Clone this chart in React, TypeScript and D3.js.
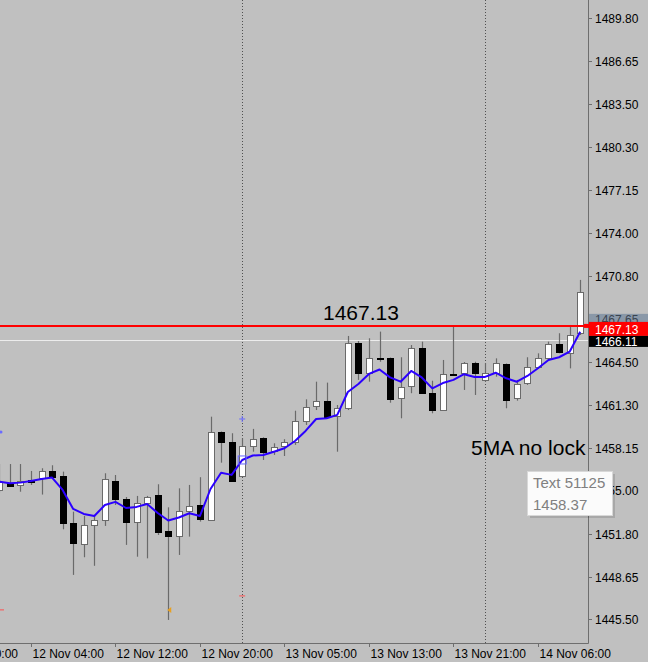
import React, { FC, useEffect, useRef } from "react"
import { line, scaleLinear, select } from "d3"

// H1 bars, index 0 = 13 Nov 01:00 (first bar is index -23)
const firstBar = -23
const opens = [
  1455.04, 1455.53, 1455.4, 1455.75, 1455.94, 1456.44, 1456.07, 1452.62, 1451.06, 1452.46,
  1452.83, 1455.72, 1454.4, 1452.66, 1454.06, 1454.67, 1452.04, 1451.67, 1453.51, 1453.93,
  1452.83, 1459.29, 1458.6, 1456.09, 1458.3, 1458.85, 1457.93, 1458.28, 1458.6, 1460.15,
  1461.23, 1461.62, 1460.49, 1461.06, 1465.85, 1463.68, 1464.77, 1464.74, 1461.8, 1462.7,
  1465.48, 1462.21, 1460.93, 1463.62, 1463.64, 1464.38, 1463.14, 1463.64, 1464.33, 1461.8,
  1462.9, 1464.13, 1464.74, 1465.8, 1465.11, 1466.59,
]
const highs = [
  1456.95, 1456.95, 1456.95, 1456.44, 1456.64, 1456.86, 1456.39, 1453.44, 1453.12, 1453.12,
  1456.27, 1456.14, 1454.52, 1454.6, 1454.6, 1455.46, 1453.76, 1455.16, 1455.41, 1455.98,
  1460.44, 1459.35, 1459.22, 1458.85, 1459.54, 1458.92, 1458.48, 1458.78, 1460.88, 1461.72,
  1463.02, 1462.95, 1461.3, 1466.39, 1466.02, 1466.22, 1466.71, 1464.8, 1464.82, 1465.72,
  1465.97, 1463.09, 1464.62, 1467.07, 1464.47, 1464.49, 1464.4, 1464.74, 1464.36, 1463.15,
  1464.82, 1465.11, 1465.97, 1466.59, 1467.2, 1470.52,
]
const lows = [
  1454.85, 1455.28, 1454.91, 1455.41, 1454.7, 1455.98, 1452.14, 1448.78, 1450.08, 1449.45,
  1452.39, 1453.93, 1450.99, 1450.12, 1450.0, 1451.72, 1445.46, 1450.25, 1451.6, 1452.71,
  1452.75, 1457.05, 1455.65, 1456.02, 1457.86, 1457.25, 1457.62, 1457.54, 1458.36, 1459.83,
  1460.93, 1460.32, 1457.86, 1460.93, 1463.15, 1463.02, 1464.49, 1461.47, 1460.32, 1462.17,
  1462.17, 1460.69, 1460.9, 1463.51, 1462.41, 1462.04, 1463.0, 1463.39, 1461.06, 1461.62,
  1462.78, 1463.99, 1464.57, 1465.11, 1464.0, 1466.46,
]
const closes = [
  1455.65, 1455.35, 1455.72, 1455.65, 1456.44, 1456.02, 1452.62, 1451.15, 1452.46, 1452.83,
  1455.83, 1454.35, 1452.68, 1454.06, 1454.55, 1451.97, 1451.67, 1453.51, 1453.88, 1452.9,
  1459.29, 1458.6, 1455.72, 1458.3, 1458.8, 1457.86, 1458.23, 1458.6, 1460.15, 1461.18,
  1461.62, 1460.44, 1461.06, 1465.85, 1463.68, 1464.74, 1464.7, 1461.72, 1462.65, 1465.48,
  1462.21, 1460.93, 1463.59, 1463.55, 1464.38, 1463.64, 1463.64, 1464.38, 1461.67, 1462.85,
  1464.13, 1464.74, 1465.8, 1465.23, 1466.46, 1469.65,
]
// 5-period moving average as drawn
const ma5 = [
  1455.65, 1455.53, 1455.58, 1455.7, 1455.85, 1455.95, 1455.04, 1453.64, 1453.27, 1453.12,
  1453.93, 1454.16, 1453.71, 1453.79, 1454.01, 1453.34, 1452.79, 1453.01, 1453.32, 1453.12,
  1455.11, 1456.31, 1456.15, 1457.25, 1457.58, 1457.62, 1457.86, 1458.11, 1458.65, 1459.39,
  1460.27, 1460.32, 1460.57, 1462.26, 1462.85, 1463.59, 1463.92, 1463.34, 1463.02, 1463.81,
  1463.33, 1462.53, 1462.92, 1463.15, 1463.57, 1463.37, 1463.37, 1463.68, 1463.27, 1463.02,
  1463.44, 1464.01, 1464.62, 1464.82, 1465.23, 1466.7,
]

const priceTicks = [
  1489.8, 1486.65, 1483.5, 1480.3, 1477.15, 1474.0, 1470.8, 1467.65, 1464.5, 1461.3,
  1458.15, 1455.0, 1451.8, 1448.65, 1445.5,
]
const timeTickBars = [-28, -20, -12, -4, 4, 12, 20, 28]
const timeTickLabels = [
  "11 Nov 20:00", "12 Nov 04:00", "12 Nov 12:00", "12 Nov 20:00",
  "13 Nov 05:00", "13 Nov 13:00", "13 Nov 21:00", "14 Nov 06:00",
]
const separatorBars = [0, 23]

const hLinePrice = 1467.13
const bidPrice = 1466.11
const hiddenTickPrice = 1467.65
const tooltipLines = ["Text 51125", "1458.37"]

// small chart objects: [bar, price, kind]
const markers: [number, number, string][] = [
  [0, 1460.27, "bluePlus"],
  [0, 1447.23, "redDash"],
  [-7, 1446.2, "orange"],
  [-23, 1459.31, "blueDot"],
  [-23, 1446.2, "redDash"],
]

const App: FC = () => {
  const ref = useRef<HTMLDivElement>(null)

  useEffect(() => {
    const width = 648
    const height = 662
    const plotW = 588
    const plotH = 643
    const font = "'Liberation Sans', Arial, sans-serif"

    select(ref.current).selectAll("*").remove()
    const svg = select(ref.current)
      .append("svg")
      .attr("width", width)
      .attr("height", height)
      .style("position", "absolute")
      .style("left", "0px")
      .style("top", "0px")
      .style("font-family", font)

    svg.append("rect").attr("width", width).attr("height", height).attr("fill", "#c0c0c0")

    const x = scaleLinear().domain([-22.93, 32.74]).range([0, plotW])
    const y = scaleLinear().domain([1443.76, 1491.15]).range([plotH, 0])
    const bars = opens.map((o, i) => ({
      bar: firstBar + i,
      o,
      h: highs[i],
      l: lows[i],
      c: closes[i],
      ma: ma5[i],
    }))

    const plot = svg.append("g")
    const clip = svg.append("clipPath").attr("id", "plotclip")
    clip.append("rect").attr("width", plotW).attr("height", plotH)
    plot.attr("clip-path", "url(#plotclip)")

    // period separators
    separatorBars.forEach((b) => {
      const sx = Math.round(x(b)) + 0.5
      plot
        .append("line")
        .attr("x1", sx)
        .attr("x2", sx)
        .attr("y1", 0)
        .attr("y2", plotH)
        .attr("stroke", "#505050")
        .attr("stroke-dasharray", "1,2")
    })

    // bid line
    const by = Math.round(y(bidPrice)) + 0.5
    plot
      .append("line")
      .attr("x1", 0)
      .attr("x2", plotW)
      .attr("y1", by)
      .attr("y2", by)
      .attr("stroke", "#ececec")
      .attr("stroke-width", 1.2)

    // candles
    bars.forEach((d) => {
      const cx = Math.round(x(d.bar)) + 0.5
      plot
        .append("line")
        .attr("x1", cx)
        .attr("x2", cx)
        .attr("y1", y(d.h))
        .attr("y2", y(d.l))
        .attr("stroke", "#6a6a6a")
        .attr("stroke-width", 1.2)
      const up = d.c >= d.o
      const top = Math.round(y(Math.max(d.o, d.c))) + 0.5
      const bot = Math.round(y(Math.min(d.o, d.c))) + 0.5
      plot
        .append("rect")
        .attr("x", cx - 3)
        .attr("y", top)
        .attr("width", 6)
        .attr("height", Math.max(1, bot - top))
        .attr("fill", up ? "#ffffff" : "#000000")
        .attr("stroke", up ? "#6a6a6a" : "#000000")
    })

    // moving average
    const maLine = line<(typeof bars)[number]>()
      .x((d) => x(d.bar))
      .y((d) => y(d.ma))
    plot
      .append("path")
      .attr("d", maLine(bars))
      .attr("fill", "none")
      .attr("stroke", "#2b00ff")
      .attr("stroke-width", 2)
      .attr("stroke-linejoin", "round")

    // square marker on MA at separator
    const sq = bars.find((d) => d.bar === 0)!
    plot
      .append("rect")
      .attr("x", x(0) - 4)
      .attr("y", y(sq.ma) - 4)
      .attr("width", 8)
      .attr("height", 8)
      .attr("fill", "none")
      .attr("stroke", "#6666ff")

    markers.forEach(([b, p, kind]) => {
      const mx = Math.max(1, x(b))
      const my = y(p)
      if (kind === "bluePlus") {
        plot.append("path").attr("d", `M${mx - 3},${my}H${mx + 3}M${mx},${my - 3}V${my + 3}`).attr("stroke", "#6a6aff")
      } else if (kind === "redDash") {
        plot.append("line").attr("x1", mx - 3).attr("x2", mx + 3).attr("y1", my).attr("y2", my).attr("stroke", "#ff5050")
      } else if (kind === "orange") {
        plot.append("path").attr("d", `M${mx + 3},${my - 3}L${mx - 1},${my}L${mx + 3},${my + 3}Z`).attr("fill", "#e8a020")
      } else {
        plot.append("circle").attr("cx", mx).attr("cy", my).attr("r", 1.5).attr("fill", "#6a6aff")
      }
    })

    // horizontal line object
    const hy = y(hLinePrice)
    plot
      .append("line")
      .attr("x1", 0)
      .attr("x2", plotW)
      .attr("y1", hy)
      .attr("y2", hy)
      .attr("stroke", "#ff0000")
      .attr("stroke-width", 2)

    // text objects
    svg
      .append("text")
      .attr("x", 323)
      .attr("y", 320)
      .attr("font-size", 21)
      .attr("fill", "#000")
      .text(hLinePrice.toFixed(2))
    svg
      .append("text")
      .attr("x", 471)
      .attr("y", 455)
      .attr("font-size", 21)
      .attr("fill", "#000")
      .text("5MA no lock")

    // axes lines
    svg
      .append("path")
      .attr("d", `M${plotW + 0.5},0V${plotH + 0.5}H0`)
      .attr("fill", "none")
      .attr("stroke", "#6e6e6e")

    // price axis
    const yAxis = svg.append("g")
    priceTicks.forEach((p) => {
      const ty = Math.round(y(p)) + 0.5
      yAxis.append("line").attr("x1", plotW).attr("x2", plotW + 4).attr("y1", ty).attr("y2", ty).attr("stroke", "#6e6e6e")
      yAxis
        .append("text")
        .attr("x", plotW + 7)
        .attr("y", ty + 4)
        .attr("font-size", 12)
        .attr("fill", "#000")
        .text(p.toFixed(2))
    })

    // time axis
    const xAxis = svg.append("g")
    timeTickBars.forEach((b, i) => {
      const tx = Math.round(x(b)) + 0.5
      xAxis.append("line").attr("x1", tx).attr("x2", tx).attr("y1", plotH).attr("y2", plotH + 4).attr("stroke", "#6e6e6e")
      xAxis
        .append("text")
        .attr("x", tx + 1)
        .attr("y", 658)
        .attr("font-size", 12)
        .attr("fill", "#000")
        .text(timeTickLabels[i])
    })

    // price tags
    const gy = y(hiddenTickPrice)
    svg.append("rect").attr("x", plotW + 1).attr("y", gy - 5).attr("width", width - plotW).attr("height", 14).attr("fill", "#8a98a8")
    svg.append("text").attr("x", plotW + 7).attr("y", gy + 5).attr("font-size", 12).attr("fill", "#3a4450").text(hiddenTickPrice.toFixed(2))
    svg.append("rect").attr("x", plotW + 1).attr("y", hy - 4).attr("width", width - plotW).attr("height", 14).attr("fill", "#ff0000")
    svg.append("rect").attr("x", plotW - 4).attr("y", hy - 2).attr("width", 5).attr("height", 4).attr("fill", "#ff0000")
    svg.append("text").attr("x", plotW + 7).attr("y", hy + 8).attr("font-size", 12).attr("fill", "#fff").text(hLinePrice.toFixed(2))
    const bty = Math.round(y(bidPrice))
    svg.append("rect").attr("x", plotW + 1).attr("y", hy + 10).attr("width", width - plotW).attr("height", 11).attr("fill", "#000")
    svg.append("text").attr("x", plotW + 7).attr("y", bty + 6).attr("font-size", 12).attr("fill", "#fff").text(bidPrice.toFixed(2))

    // tooltip
    const tip = svg.append("g").attr("transform", "translate(527,471)")
    tip.append("rect").attr("x", 3).attr("y", 3).attr("width", 85).attr("height", 44).attr("fill", "#000").attr("opacity", 0.12)
    tip.append("rect").attr("x", 0.5).attr("y", 0.5).attr("width", 85).attr("height", 44).attr("fill", "#fbfbfb").attr("stroke", "#d8d8d8")
    tooltipLines.forEach((t, i) => {
      tip
        .append("text")
        .attr("x", 6)
        .attr("y", 17 + i * 22)
        .attr("font-size", 15)
        .attr("fill", "#808080")
        .text(t)
    })
  }, [])

  return <div ref={ref} id="wrapper" />
}

export default App
